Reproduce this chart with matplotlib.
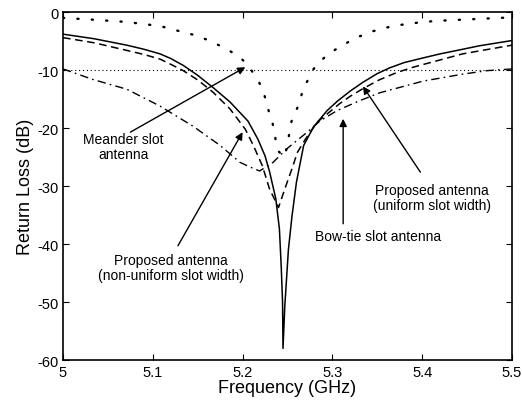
import matplotlib
matplotlib.use('Agg')
import matplotlib.pyplot as plt

plt.rcParams['font.family'] = ['Liberation Sans', 'DejaVu Sans']
plt.rcParams['axes.unicode_minus'] = False

# proposed antenna (solid)
f_solid = [5.00, 5.035, 5.071, 5.09, 5.108, 5.12, 5.134, 5.15, 5.167, 5.186,
           5.206, 5.217, 5.225, 5.23, 5.237, 5.241, 5.243, 5.2445, 5.245, 5.247,
           5.251, 5.255, 5.26, 5.268, 5.279, 5.294, 5.306, 5.32, 5.334, 5.35,
           5.364, 5.38, 5.401, 5.42, 5.439, 5.464, 5.5]
rl_solid = [-3.8, -4.6, -5.7, -6.4, -7.2, -8.0, -9.2, -10.9, -13.0, -15.5,
            -18.8, -21.9, -24.8, -27.5, -32.2, -37.4, -43.8, -50.0, -58.0, -50.7,
            -41.0, -35.2, -29.3, -23.0, -19.8, -17.0, -15.3, -13.6, -12.1, -10.6,
            -9.6, -8.7, -7.9, -7.2, -6.6, -5.8, -4.9]

# proposed antenna (dashed)
f_dash = [5.00, 5.035, 5.071, 5.09, 5.108, 5.12, 5.134, 5.15, 5.167, 5.186,
          5.203, 5.212, 5.222, 5.23, 5.24, 5.247, 5.255, 5.261, 5.27, 5.283,
          5.297, 5.308, 5.32, 5.334, 5.352, 5.372, 5.39, 5.409, 5.445, 5.5]
rl_dash = [-4.4, -5.3, -6.6, -7.3, -8.1, -9.0, -10.1, -11.7, -13.8, -16.7,
           -20.2, -23.0, -26.5, -30.5, -33.7, -30.5, -27.0, -24.2, -21.9, -19.0,
           -17.2, -15.8, -14.5, -13.2, -11.7, -10.4, -9.5, -8.7, -7.2, -5.7]

# bow-tie slot antenna (dash-dot)
f_bow = [5.00, 5.033, 5.071, 5.108, 5.145, 5.175, 5.197, 5.208, 5.219, 5.234,
         5.249, 5.272, 5.286, 5.305, 5.33, 5.353, 5.401, 5.445, 5.472, 5.5]
rl_bow = [-9.8, -11.6, -13.3, -16.2, -19.7, -23.0, -25.9, -26.7, -27.4, -25.9,
          -23.6, -20.7, -18.8, -17.0, -15.3, -13.9, -11.9, -10.7, -10.1, -9.8]

# meander slot antenna (dotted)
f_mea = [5.00, 5.033, 5.071, 5.108, 5.13, 5.15, 5.167, 5.185, 5.199, 5.206,
         5.218, 5.223, 5.226, 5.229, 5.233, 5.237, 5.24, 5.246, 5.25, 5.253,
         5.256, 5.262, 5.268, 5.274, 5.278, 5.286, 5.294, 5.304, 5.325, 5.345,
         5.367, 5.39, 5.416, 5.445, 5.5]
rl_mea = [-1.0, -1.3, -1.7, -2.4, -3.3, -4.1, -5.2, -6.6, -8.1, -9.1,
          -12.0, -13.6, -15.3, -17.0, -18.8, -22.2, -24.0, -25.0, -23.1, -19.7,
          -18.0, -16.2, -13.0, -11.4, -10.0, -8.6, -7.4, -6.4, -4.5, -3.3,
          -2.4, -1.9, -1.5, -1.3, -0.9]

ref_f = [5.0, 5.5]
ref_rl = [-10, -10]

xticks = [5, 5.1, 5.2, 5.3, 5.4, 5.5]
xtick_labels = ['5', '5.1', '5.2', '5.3', '5.4', '5.5']
yticks = [0, -10, -20, -30, -40, -50, -60]

fig = plt.figure(figsize=(5.22, 4.10), dpi=100)
ax = fig.add_axes([0.1207, 0.1195, 0.8601, 0.8485])

ax.plot(ref_f, ref_rl, color='black', lw=0.8, linestyle=(0, (1, 2.5)))
ax.plot(f_mea, rl_mea, color='black', lw=1.7, linestyle=(0, (0.5, 5.6)),
        dash_capstyle='round')
ax.plot(f_solid, rl_solid, color='black', lw=1.1)
ax.plot(f_dash, rl_dash, color='black', lw=1.1, linestyle=(0, (5, 3)))
ax.plot(f_bow, rl_bow, color='black', lw=1.0, linestyle=(0, (6, 3, 1.2, 3)))

ax.set_xlim(5, 5.5)
ax.set_ylim(-60, 0)
ax.set_xticks(xticks)
ax.set_xticklabels(xtick_labels)
ax.set_yticks(yticks)
ax.tick_params(direction='in', top=True, right=True, labelsize=10.5, length=4)
for s in ax.spines.values():
    s.set_linewidth(1.2)

ax.set_xlabel('Frequency (GHz)', fontsize=13, labelpad=0)
ax.set_ylabel('Return Loss (dB)', fontsize=13, labelpad=2)

arrow = dict(arrowstyle='-|>', color='black', lw=1.0, mutation_scale=11,
             shrinkA=0, shrinkB=0)

ax.annotate('', xy=(5.203, -9.5), xytext=(5.075, -20.7), arrowprops=arrow)
ax.text(5.067, -23.2, 'Meander slot\nantenna', ha='center', va='center',
        fontsize=10, linespacing=1.1)

ax.annotate('', xy=(5.2, -20.7), xytext=(5.128, -40.3), arrowprops=arrow)
ax.text(5.12, -44.0, 'Proposed antenna\n(non-uniform slot width)', ha='center',
        va='center', fontsize=10, linespacing=1.1)

ax.annotate('', xy=(5.312, -18.4), xytext=(5.312, -36.5), arrowprops=arrow)
ax.text(5.351, -38.6, 'Bow-tie slot antenna', ha='center', va='center',
        fontsize=10)

ax.annotate('', xy=(5.334, -12.8), xytext=(5.398, -27.6), arrowprops=arrow)
ax.text(5.411, -32.0, 'Proposed antenna\n(uniform slot width)', ha='center',
        va='center', fontsize=10, linespacing=1.1)

fig.savefig('out.png', dpi=100)
